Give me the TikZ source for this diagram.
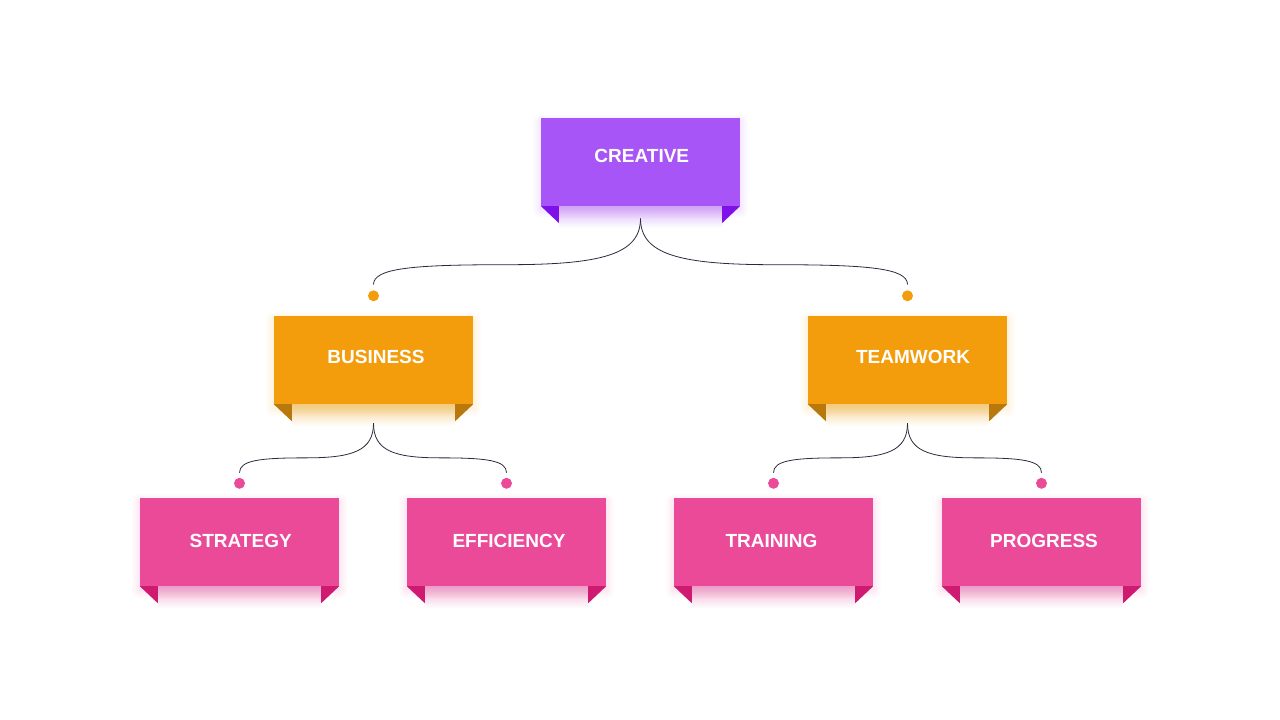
\documentclass[tikz,border=0pt]{standalone}
\usepackage{fontspec}
\setmainfont{Liberation Sans}
\usetikzlibrary{calc,backgrounds}

\definecolor{cPurple}{HTML}{A855F7}
\definecolor{cPurpleDark}{HTML}{7F10EA}
\definecolor{cOrange}{HTML}{F39C0C}
\definecolor{cOrangeDark}{HTML}{B8780C}
\definecolor{cPink}{HTML}{EA4A98}
\definecolor{cPinkDark}{HTML}{CF1A72}
\definecolor{cLine}{HTML}{2A2A3C}

\tikzset{
	card/.style={rectangle, inner sep=0pt, minimum width=199pt, minimum height=88pt,
		text=white, font=\bfseries\fontsize{19}{19}\selectfont, text height=13.6pt},
	topcard/.style={card, fill=cPurple, text depth=12pt},
	midcard/.style={card, fill=cOrange, text depth=6pt},
	lowcard/.style={card, fill=cPink, text depth=2pt},
	nudge/.style={execute at begin node={\hspace*{#1}}},
	knob/.style={circle, fill=#1, inner sep=0pt, minimum size=11pt},
	brace/.style={draw=cLine, line width=0.8pt}
}

% folds and soft shadow of a card
\newcommand\cardtrim[3]{%
	\begin{scope}[on background layer]
		\shade[top color=#2!45, bottom color=white] ($(#1.south west)+(18,0)$) rectangle ($(#1.south east)+(-18,22)$);
		\foreach \g in {1,...,8}
			\fill[#2, opacity=0.014, rounded corners=\g] ($(#1.north west)+(-\g,4-\g)$) rectangle ($(#1.south east)+(\g,4+\g)$);
	\end{scope}
	\fill[#3] (#1.south west) -- ++(18,0) -- ++(0,17) -- cycle;
	\fill[#3] (#1.south east) -- ++(-18,0) -- ++(0,17) -- cycle;
}

% one half of a brace, from its tip to one end
\newcommand\bracearm[2]{%
	\draw[brace] let \p1=(#1), \p2=(#2) in
		(\p1) .. controls (\x1,{\y1+0.55*(\y2-\y1)}) and ({\x1+0.15*(\x2-\x1)},{\y1+0.7*(\y2-\y1)})
		.. ({0.5*(\x1+\x2)},{\y1+0.7*(\y2-\y1)})
		.. controls ({\x1+0.85*(\x2-\x1)},{\y1+0.7*(\y2-\y1)}) and (\x2,{\y1+0.75*(\y2-\y1)}) .. (\p2);
}

\begin{document}
\begin{tikzpicture}[x=1pt, y=-1pt]
	\useasboundingbox (0,0) rectangle (1280,720);
	
	\node[topcard, nudge=2.6pt] (creative) at (640.5,161.8) {CREATIVE};
	
	\node[midcard, nudge=5pt] (business) at (373.5,360) {BUSINESS};
	\node[midcard, nudge=11pt] (teamwork) at (907.5,360) {TEAMWORK};
	
	\node[lowcard, nudge=2.4pt] (strategy) at (239.5,542) {STRATEGY};
	\node[lowcard, nudge=5pt] (efficiency) at (506.5,542) {EFFICIENCY};
	\node[lowcard, nudge=-4pt] (training) at (773.5,542) {TRAINING};
	\node[lowcard, nudge=5pt] (progress) at (1041.5,542) {PROGRESS};
	
	\cardtrim{creative}{cPurple}{cPurpleDark}
	\cardtrim{business}{cOrange}{cOrangeDark}
	\cardtrim{teamwork}{cOrange}{cOrangeDark}
	\foreach \c in {strategy,efficiency,training,progress}{
		\cardtrim{\c}{cPink}{cPinkDark}
	}
	
	% knobs above the cards
	\node[knob=cOrange] (business-knob) at ($(business.north)+(0,-20)$) {};
	\node[knob=cOrange] (teamwork-knob) at ($(teamwork.north)+(0,-20)$) {};
	\foreach \c in {strategy,efficiency,training,progress}
		\node[knob=cPink] (\c-knob) at ($(\c.north)+(0,-14.5)$) {};
	
	% braces
	\coordinate (creative-tip) at ($(creative.south)+(0,12.5)$);
	\coordinate (business-tip) at ($(business.south)+(0,19)$);
	\coordinate (teamwork-tip) at ($(teamwork.south)+(0,19)$);
	\foreach \c in {business,teamwork}
		\coordinate (\c-end) at ($(\c-knob.center)+(0,-11.3)$);
	\foreach \c in {strategy,efficiency,training,progress}
		\coordinate (\c-end) at ($(\c-knob.center)+(0,-10.6)$);
	
	\bracearm{creative-tip}{business-end}
	\bracearm{creative-tip}{teamwork-end}
	\bracearm{business-tip}{strategy-end}
	\bracearm{business-tip}{efficiency-end}
	\bracearm{teamwork-tip}{training-end}
	\bracearm{teamwork-tip}{progress-end}
\end{tikzpicture}
\end{document}
